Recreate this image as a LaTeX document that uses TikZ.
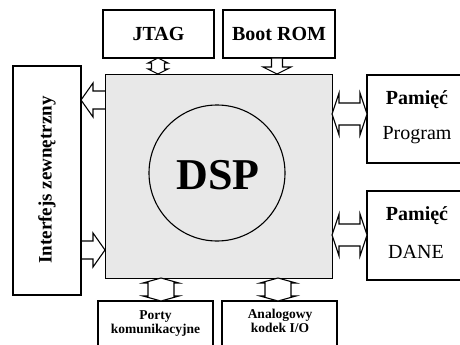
\documentclass[tikz,border=0pt]{standalone}
\usepackage{fontspec}
\setmainfont{Liberation Serif}
\usetikzlibrary{calc}
\newcommand\vdarr[5]{%
\draw[blockarr] (#1) -- ($(#1)+(#3,#5)$) -- ($(#1)+(#4,#5)$) -- ($(#2)+(#4,-#5)$) -- ($(#2)+(#3,-#5)$) -- (#2) -- ($(#2)+(-#3,-#5)$) -- ($(#2)+(-#4,-#5)$) -- ($(#1)+(-#4,#5)$) -- ($(#1)+(-#3,#5)$) -- cycle;}
\newcommand\hdarr[5]{%
\draw[blockarr] (#1) -- ($(#1)+(#5,-#3)$) -- ($(#1)+(#5,-#4)$) -- ($(#2)+(-#5,-#4)$) -- ($(#2)+(-#5,-#3)$) -- (#2) -- ($(#2)+(-#5,#3)$) -- ($(#2)+(-#5,#4)$) -- ($(#1)+(#5,#4)$) -- ($(#1)+(#5,#3)$) -- cycle;}
\begin{document}
\begin{tikzpicture}[x=1pt,y=-1pt,
  box/.style={draw=black,line width=1.7pt,fill=white},
  blockarr/.style={draw=black,line width=1.1pt,fill=white,line join=miter},
  big/.style={font=\fontsize{20}{24}\selectfont\bfseries},
  bigr/.style={font=\fontsize{20}{24}\selectfont},
  small/.style={font=\fontsize{13.5}{17}\selectfont\bfseries,align=center}]
\useasboundingbox (0,0) rectangle (460,345);
\fill[white] (0,0) rectangle (460,345);
% connectors (drawn under the core)
\coordinate (l1) at (81,100); \coordinate (l2) at (106,100);
\draw[blockarr] (l1) -- ($(l1)+(12,-17)$) -- ($(l1)+(12,-9)$) -- ($(l2)+(0,-9)$) -- ($(l2)+(0,9)$) -- ($(l1)+(12,9)$) -- ($(l1)+(12,17)$) -- cycle;
\coordinate (m1) at (81,250); \coordinate (m2) at (105,250);
\draw[blockarr] ($(m1)+(0,-9)$) -- ($(m2)+(-12,-9)$) -- ($(m2)+(-12,-17)$) -- (m2) -- ($(m2)+(-12,17)$) -- ($(m2)+(-12,9)$) -- ($(m1)+(0,9)$) -- cycle;
% DSP core
\draw[line width=0.9pt,fill=black!9] (105,74) rectangle (332,278);
\coordinate (dspc) at (217,173);
\draw[line width=1.1pt,fill=black!9] (dspc) circle[radius=68];
\node[font=\fontsize{44}{48}\selectfont\bfseries] (dsp) at (218,175) {DSP};
% boxes
\draw[box] (103,10) rectangle (214,58);
\node[big] (jtag) at (158.5,34) {JTAG};
\draw[box] (223,10) rectangle (335,58);
\node[big] (boot) at (279,34) {Boot ROM};
\draw[box] (13,66) rectangle (81,295);
\node[rotate=90,font=\fontsize{19}{22}\selectfont\bfseries] (ext) at (47,180) {Interfejs zewnętrzny};
\draw[box] (367,75) rectangle (462,163);
\node[big] (pam1) at (417,100) {Pamięć};
\node[bigr] (prog) at (417,135) {Program};
\draw[box] (367,191) rectangle (462,280);
\node[big] (pam2) at (417,216) {Pamięć};
\node[bigr] (dane) at (416,252) {DANE};
\draw[box] (98,301) rectangle (213,352);
\node[small] (porty) at (155.5,324) {Porty\\[-3pt]komunikacyjne};
\draw[box] (222,301) rectangle (337,352);
\node[small] (analog) at (280,321) {Analogowy\\[-3pt]kodek I/O};
% connectors
\coordinate (j1) at (158,58); \coordinate (j2) at (158,74);
\vdarr{j1}{j2}{10}{6.5}{5}
\coordinate (b1) at (277,58); \coordinate (b2) at (277,74);
\draw[blockarr] ($(b1)+(-5.5,0)$) -- ($(b1)+(-5.5,9)$) -- ($(b1)+(-14,9)$) -- (b2) -- ($(b1)+(14,9)$) -- ($(b1)+(5.5,9)$) -- ($(b1)+(5.5,0)$) -- cycle;
\coordinate (p1) at (161,278); \coordinate (p2) at (161,301);
\vdarr{p1}{p2}{18}{13}{5}
\coordinate (a1) at (278,278); \coordinate (a2) at (278,301);
\vdarr{a1}{a2}{18}{13}{5}
\coordinate (r1) at (332,114); \coordinate (r2) at (367,114);
\hdarr{r1}{r2}{21}{11}{7}
\coordinate (s1) at (332,235); \coordinate (s2) at (367,235);
\hdarr{s1}{s2}{21}{11}{7}
\end{tikzpicture}
\end{document}
